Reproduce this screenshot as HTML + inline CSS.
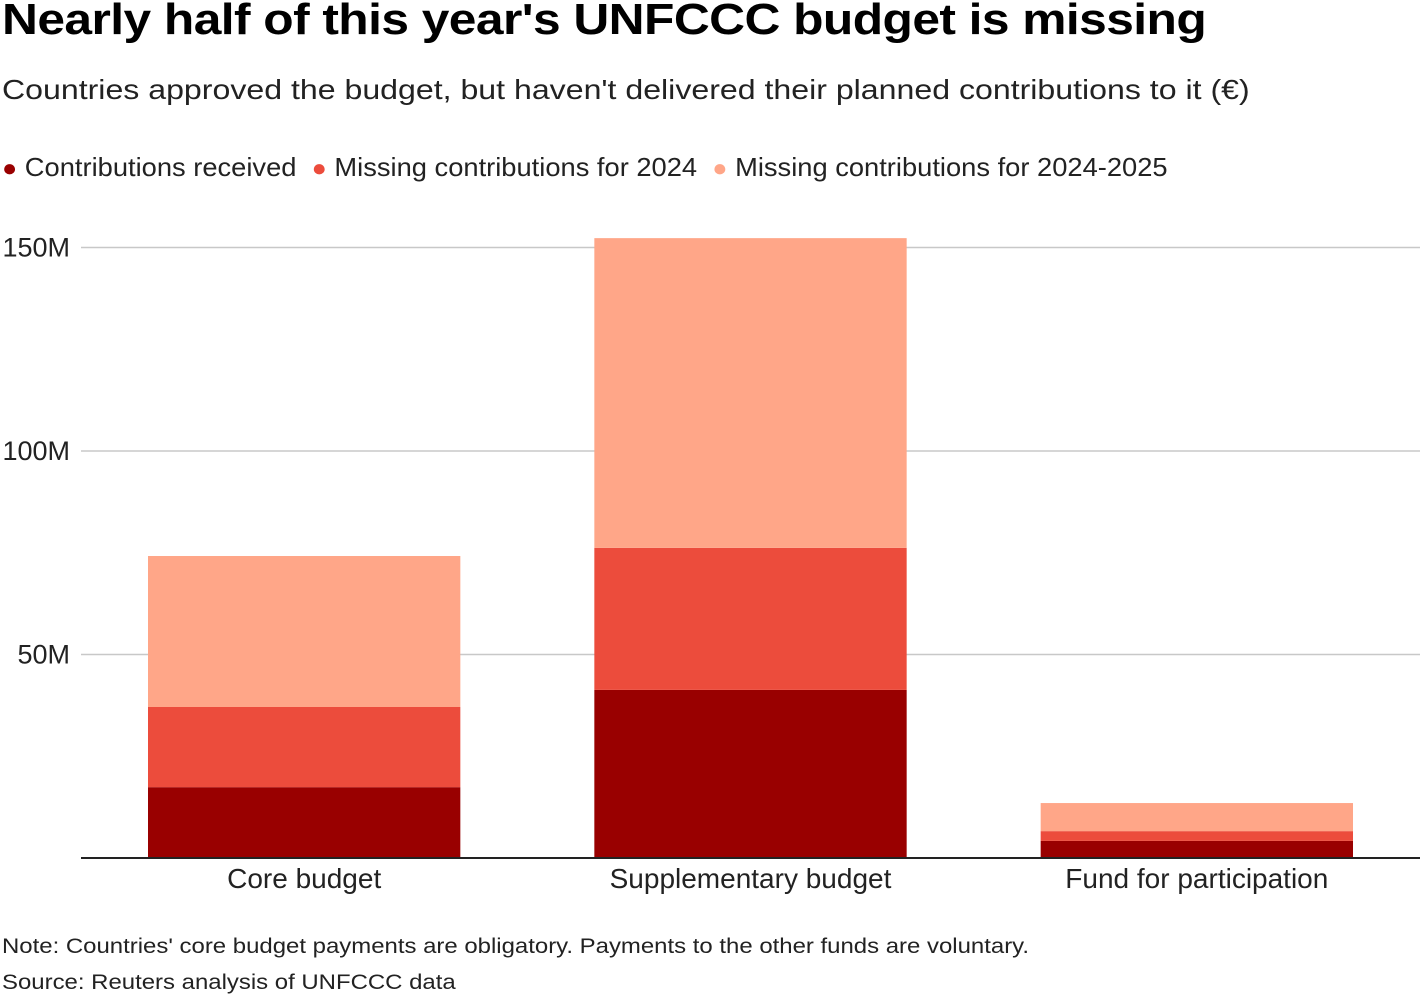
<!DOCTYPE html>
<html><head><meta charset="utf-8"><style>
body{margin:0;width:1420px;height:1002px;background:#fff;font-family:"Liberation Sans",Arial,sans-serif;color:#000;overflow:hidden;position:relative}
.t{position:absolute;left:2px;white-space:nowrap;transform-origin:0 0}
</style></head><body>
<div class="t" style="top:-5px;font-size:44px;font-weight:bold;letter-spacing:-0.5px;transform:scaleX(1.13)">Nearly half of this year's UNFCCC budget is missing</div>
<div class="t" style="top:74px;font-size:28px;color:#222;transform:scaleX(1.146)">Countries approved the budget, but haven't delivered their planned contributions to it (€)</div>
<div class="t" style="top:152px;font-size:26px;color:#222;transform:scaleX(1.05)">
<span><span style="color:#990000;font-size:24px">●</span> Contributions received</span>&nbsp;
<span><span style="color:#ec4c3c;font-size:24px">●</span> Missing contributions for 2024</span>&nbsp;
<span><span style="color:#ffa688;font-size:24px">●</span> Missing contributions for 2024-2025</span>
</div>
<svg id="chart" width="1420" height="1002" style="position:absolute;left:0;top:0"></svg>
<div class="t" style="top:935px;font-size:21px;color:#222;transform:scaleX(1.14)">Note: Countries' core budget payments are obligatory. Payments to the other funds are voluntary.</div>
<div class="t" style="top:971px;font-size:21px;color:#222;transform:scaleX(1.14)">Source: Reuters analysis of UNFCCC data</div>
<script>
const categories=["Core budget","Supplementary budget","Fund for participation"];
const received=[17.4,41.3,4.2];
const missing2024=[19.7,34.9,2.4];
const missing2025=[37.1,76.1,6.9];
const ticks=[50,100,150];
const tickLabels=["50M","100M","150M"];
const colors=["#990000","#ec4c3c","#ffa688"];
const ns="http://www.w3.org/2000/svg";
const svg=document.getElementById("chart");
const x0=81,x1=1420,y0=858,pxPerM=4.07;
const band=(x1-x0)/categories.length,pad=67;
const y=v=>y0-v*pxPerM;
function mk(t,a){const e=document.createElementNS(ns,t);for(const k in a)e.setAttribute(k,a[k]);svg.appendChild(e);return e;}
ticks.forEach((v,i)=>{
 const l=mk("line",{x1:x0,x2:x1,y1:y(v),y2:y(v),stroke:"#c8c8c8","stroke-width":1.5});
 
 
 const t=mk("text",{x:70,y:y(v)+9,"text-anchor":"end","font-size":27,fill:"#222","font-family":"Liberation Sans, Arial, sans-serif"});
 t.textContent=tickLabels[i];
 
 
});
const series=[received,missing2024,missing2025];
categories.forEach((c,i)=>{
 let base=0;const bx=x0+band*i+pad,bw=band-2*pad;
 series.forEach((s,j)=>{
  const r=mk("rect",{x:bx,width:bw,y:y(base+s[i]),height:s[i]*pxPerM,fill:colors[j]});
  
  
  base+=s[i];
 });
 const t=mk("text",{x:bx+bw/2,y:888,"text-anchor":"middle","font-size":28,fill:"#222","font-family":"Liberation Sans, Arial, sans-serif"});
 t.textContent=c;
 
 
});
const ax=mk("line",{x1:x0,x2:x1,y1:y0,y2:y0,stroke:"#222","stroke-width":2});


</script>
</body></html>
